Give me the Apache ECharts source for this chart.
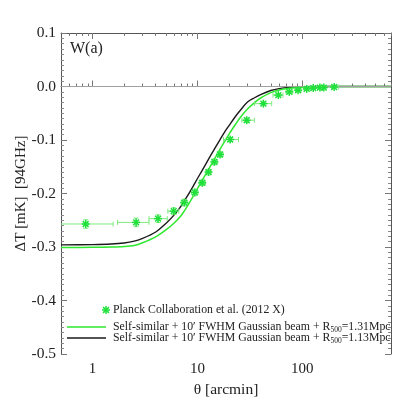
<!DOCTYPE html>
<html>
<head>
<meta charset="utf-8">
<script src="https://cdn.jsdelivr.net/npm/echarts@6/dist/echarts.min.js"></script>
<style>
html, body { margin: 0; padding: 0; background: #fff; }
#chart { width: 409px; height: 409px; }
</style>
</head>
<body>
<div id="chart"></div>
<script>
// Planck stacked profile points (theta in arcmin, dT in mK)
var planckTheta   = [0.86, 2.60, 4.21, 5.93, 7.49, 9.43, 11.1, 12.75, 14.5, 16.4, 20.5, 29.5, 42.5, 59, 75, 91, 110, 127, 147, 160, 201]
var planckDT      = [-0.257, -0.254, -0.247, -0.233, -0.217, -0.198, -0.180, -0.160, -0.141, -0.127, -0.099, -0.063, -0.032, -0.016, -0.010, -0.007, -0.0045, -0.003, -0.002, -0.002, -0.001]
var planckThetaLo = [0.45, 1.73, 3.45, 5.22, 7.0, 8.8, 10.4, 12.0, 13.7, 15.5, 17.7, 26.5, 35, 52.5, 70, 86, 104, 121, 140, 153, 190]
var planckThetaHi = [1.57, 3.45, 5.15, 6.64, 8.0, 10.1, 11.9, 13.5, 15.5, 17.5, 24.6, 34.9, 51, 65.4, 81, 97, 116, 133, 154, 168, 222]
var planckErr     = [0.008, 0.008, 0.007, 0.006, 0.006, 0.006, 0.005, 0.005, 0.005, 0.005, 0.004, 0.004, 0.003, 0.003, 0.003, 0.002, 0.002, 0.002, 0.002, 0.002, 0.002]

// model curves
var modelTheta = [0.5, 1, 1.5, 2, 2.5, 3, 4, 5, 6, 7, 8, 9, 10, 11, 12, 13, 14, 16, 18, 20, 23, 26, 30, 35, 40, 50, 60, 75, 100, 150, 200, 300, 700]
var modelGreen = [-0.301, -0.3005, -0.300, -0.299, -0.297, -0.292, -0.281, -0.268, -0.255, -0.241, -0.224, -0.207, -0.191, -0.177, -0.164, -0.152, -0.141, -0.121, -0.104, -0.089, -0.071, -0.056, -0.042, -0.030, -0.0215, -0.0115, -0.0065, -0.0033, -0.0012, -0.0003, -0.0001, 0, 0]
var modelBlack = [-0.296, -0.2955, -0.2945, -0.2925, -0.289, -0.284, -0.272, -0.256, -0.240, -0.223, -0.205, -0.188, -0.172, -0.158, -0.145, -0.133, -0.122, -0.103, -0.086, -0.073, -0.056, -0.043, -0.029, -0.021, -0.015, -0.0075, -0.004, -0.0017, -0.0005, 0, 0, 0, 0]

var xMajor = [1, 10, 100]
var xMinor = [0.6, 0.7, 0.8, 0.9, 2, 3, 4, 5, 6, 7, 8, 9, 20, 30, 40, 50, 60, 70, 80, 90, 200, 300, 400, 500, 600, 700]

var FONT = 'Liberation Serif'
var GREEN = '#2ee82e'
var GREEN_PT = '#1fe03a'
var GREEN_ERR = '#7eea7e'

function xAxisDef(pos, major, showLabel, showLine) {
    return {
        type: 'log', min: 0.5, max: 700, position: pos,
        axisLine: {show: showLine, lineStyle: {color: '#555', width: 1}},
        axisTick: {show: true, inside: true, length: major ? 6 : 3, customValues: major ? xMajor : xMinor,
            lineStyle: {color: '#777'}},
        axisLabel: {show: showLabel, customValues: xMajor, margin: 8,
            fontFamily: FONT, fontSize: 15, color: '#222'},
        splitLine: {show: false},
        minorTick: {show: false}
    }
}

function yAxisDef(pos, showLabel) {
    return {
        type: 'value', min: -0.5, max: 0.1, interval: 0.1, position: pos,
        axisLine: {show: true, lineStyle: {color: '#555', width: 1}},
        axisTick: {show: true, inside: true, length: 6, lineStyle: {color: '#777'}},
        minorTick: {show: true, splitNumber: 10, length: 3, lineStyle: {color: '#888'}},
        axisLabel: {show: showLabel, margin: 5, fontFamily: FONT, fontSize: 15.5, color: '#222',
            formatter: function (v) { return v.toFixed(1) }},
        splitLine: {show: false}
    }
}

var errData = planckTheta.map(function (t, i) {
    return [t, planckDT[i], planckThetaLo[i], planckThetaHi[i], planckErr[i]]
})

function starLines(cx, cy) {
    var r = 4, d = 2.9, s = {stroke: GREEN_PT, lineWidth: 1.5}
    return [
        {type: 'line', shape: {x1: cx - r, y1: cy, x2: cx + r, y2: cy}, style: s},
        {type: 'line', shape: {x1: cx, y1: cy - r, x2: cx, y2: cy + r}, style: s},
        {type: 'line', shape: {x1: cx - d, y1: cy - d, x2: cx + d, y2: cy + d}, style: s},
        {type: 'line', shape: {x1: cx - d, y1: cy + d, x2: cx + d, y2: cy - d}, style: s}
    ]
}

function renderPoint(params, api) {
    var t = api.value(0), v = api.value(1), e = api.value(4)
    var c = api.coord([t, v])
    var lo = api.coord([api.value(2), v])
    var hi = api.coord([api.value(3), v])
    var top = api.coord([t, v + e])
    var bot = api.coord([t, v - e])
    var errStyle = {stroke: GREEN_ERR, lineWidth: 1}
    var kids = [
        {type: 'line', shape: {x1: lo[0], y1: c[1], x2: hi[0], y2: c[1]}, style: errStyle},
        {type: 'line', shape: {x1: lo[0], y1: c[1] - 2.5, x2: lo[0], y2: c[1] + 2.5}, style: errStyle},
        {type: 'line', shape: {x1: hi[0], y1: c[1] - 2.5, x2: hi[0], y2: c[1] + 2.5}, style: errStyle},
        {type: 'line', shape: {x1: c[0], y1: top[1], x2: c[0], y2: bot[1]}, style: errStyle},
        {type: 'line', shape: {x1: c[0] - 2.5, y1: top[1], x2: c[0] + 2.5, y2: top[1]}, style: errStyle},
        {type: 'line', shape: {x1: c[0] - 2.5, y1: bot[1], x2: c[0] + 2.5, y2: bot[1]}, style: errStyle}
    ]
    return {type: 'group', children: kids.concat(starLines(c[0], c[1]))}
}

var legendFont = {fontFamily: FONT, fontSize: 11.8, fill: '#222'}
var subRich = {sub: {fontFamily: FONT, fontSize: 7.5, fill: '#222', padding: [6, 0, 0, 0]}}

var chart = echarts.init(document.getElementById('chart'), null, {renderer: 'canvas'})

var option = {
    animation: false,
    backgroundColor: '#fff',
    grid: {left: 61, right: 18, top: 33, bottom: 55},
    xAxis: [
        Object.assign(xAxisDef('bottom', true, true, true), {
            name: 'θ [arcmin]', nameLocation: 'middle', nameGap: 25,
            nameTextStyle: {fontFamily: FONT, fontSize: 15.5, color: '#222'}
        }),
        xAxisDef('bottom', false, false, false),
        xAxisDef('top', true, false, true),
        xAxisDef('top', false, false, false)
    ],
    yAxis: [
        Object.assign(yAxisDef('left', true), {
            name: 'ΔT [mK]  [94GHz]', nameLocation: 'middle', nameGap: 32, nameMoveOverlap: false,
            nameTextStyle: {fontFamily: FONT, fontSize: 15, color: '#222'}
        }),
        yAxisDef('right', false)
    ],
    series: [
        {
            type: 'line', xAxisIndex: 0, yAxisIndex: 0,
            data: [], silent: true, z: 1,
            markLine: {
                silent: true, symbol: ['none', 'none'], label: {show: false},
                lineStyle: {color: '#a0a0a0', type: 'solid', width: 1},
                data: [{yAxis: 0}]
            }
        },
        {
            name: 'R500=1.13Mpc', type: 'line', xAxisIndex: 0, yAxisIndex: 0, z: 3,
            data: modelTheta.map(function (t, i) { return [t, modelBlack[i]] }),
            showSymbol: false, smooth: 0.3, lineStyle: {color: '#1a1a1a', width: 1.4}
        },
        {
            name: 'R500=1.31Mpc', type: 'line', xAxisIndex: 0, yAxisIndex: 0, z: 4,
            data: modelTheta.map(function (t, i) { return [t, modelGreen[i]] }),
            showSymbol: false, smooth: 0.3, lineStyle: {color: GREEN, width: 1.5}
        },
        {
            name: 'Planck', type: 'custom', xAxisIndex: 0, yAxisIndex: 0, z: 5,
            clip: true, data: errData, renderItem: renderPoint
        }
    ],
    graphic: [
        {type: 'text', left: 70, top: 41, style: {text: 'W(a)', fontFamily: FONT, fontSize: 16, fill: '#222'}},
        {type: 'group', children: starLines(106, 310)},
        {type: 'text', x: 113, y: 310, style: Object.assign({text: 'Planck Collaboration et al. (2012 X)', verticalAlign: 'middle'}, legendFont)},
        {type: 'line', shape: {x1: 67, y1: 327, x2: 106, y2: 327}, style: {stroke: GREEN, lineWidth: 1.5}},
        {type: 'text', x: 113, y: 327, style: Object.assign({text: 'Self-similar + 10′ FWHM Gaussian beam + R{sub|500}=1.31Mpc', verticalAlign: 'middle', rich: subRich}, legendFont)},
        {type: 'line', shape: {x1: 67, y1: 338, x2: 106, y2: 338}, style: {stroke: '#1a1a1a', lineWidth: 1.4}},
        {type: 'text', x: 113, y: 338, style: Object.assign({text: 'Self-similar + 10′ FWHM Gaussian beam + R{sub|500}=1.13Mpc', verticalAlign: 'middle', rich: subRich}, legendFont)}
    ]
}

chart.setOption(option)
</script>
</body>
</html>
